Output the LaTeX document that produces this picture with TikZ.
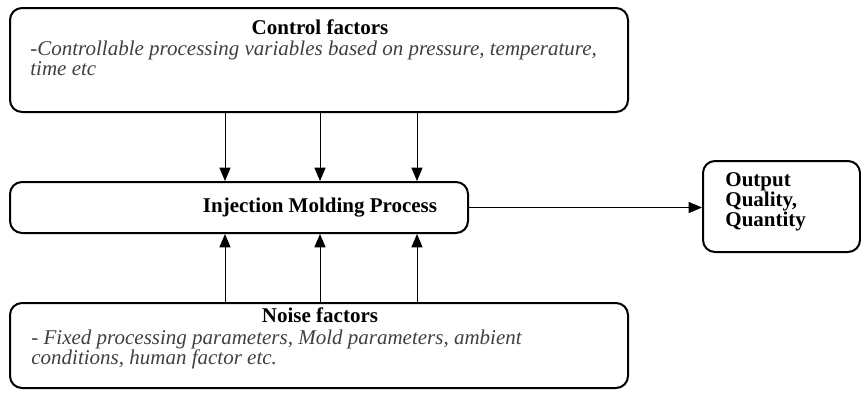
\documentclass[tikz,border=0pt]{standalone}
\usepackage{fontspec}
\setmainfont{Liberation Serif}
\usetikzlibrary{arrows,positioning}

\begin{document}
\begin{tikzpicture}[x=0.5pt,y=-0.5pt,>=triangle 45,
    roundbox/.style={draw,line width=1pt,rounded corners=6pt,inner sep=0pt},
    headtext/.style={font=\fontsize{10.5}{10}\selectfont\bfseries,inner sep=0pt},
    bodytext/.style={font=\fontsize{10.5}{10}\selectfont\itshape,text=black!75,align=left,inner sep=0pt},
    flow/.style={->,line width=0.5pt}]

      \useasboundingbox (0,0) rectangle (861,392);

      % boxes
      \node[roundbox,minimum width=309pt,minimum height=52pt] (ctrl) at (319,60) {};
      \node[roundbox,minimum width=229pt,minimum height=25.5pt] (proc) at (239,207.5) {};
      \node[roundbox,minimum width=78.5pt,minimum height=45.5pt] (out) at (781.5,206.5) {};
      \node[roundbox,minimum width=309pt,minimum height=42.5pt] (noise) at (319,345.5) {};

      % texts
      \node[headtext] (ctrlhead) at (320,27) {Control factors};
      \node[bodytext,anchor=north west] (ctrlbody) at (30,41) {-Controllable processing variables based on pressure, temperature,\\time etc};
      \node[headtext] (proctext) at (320,207.5) {Injection Molding Process};
      \node[headtext,align=left,anchor=north west] (outtext) at (725,172) {Output\\Quality,\\Quantity};
      \node[headtext] (noisehead) at (320,315) {Noise factors};
      \node[bodytext,anchor=north west] (noisebody) at (31,330) {- Fixed processing parameters, Mold parameters, ambient\\conditions, human factor etc.};

      % arrows
      \foreach \x in {225,320,417} {
        \draw[flow] (\x,0 |- ctrl.south) -- (\x,0 |- proc.north);
        \draw[flow] (\x,0 |- noise.north) -- (\x,0 |- proc.south);
      }
      \draw[flow] (proc.east) -- (proc.east -| out.west);
    \end{tikzpicture}
\end{document}
